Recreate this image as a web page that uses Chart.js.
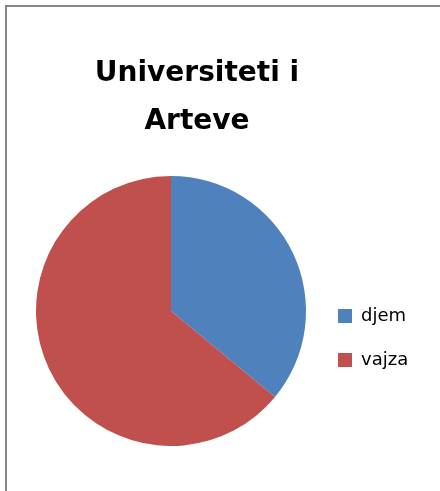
<!DOCTYPE html>
<html>
<head>
<meta charset="utf-8">
<script src="https://cdn.jsdelivr.net/npm/chart.js@4"></script>
<style>
  html, body { margin: 0; padding: 0; background: #fff; overflow: hidden; }
  #frame { position: absolute; left: 5px; top: 5px; width: 600px; height: 700px; border: 2px solid #868686; }
  #myGraph { position: absolute; left: 0; top: 0; }
  #chartTitle {
    position: absolute; left: 0; top: 48px; width: 394px;
    text-align: center; font: bold 28px/48px 'DejaVu Sans'; color: #000;
  }
</style>
</head>
<body>
<div id="frame"></div>
<canvas id="myGraph" width="440" height="491"></canvas>
<div id="chartTitle"></div>
<script>
// data
const titleLines = ['Universiteti i', 'Arteve'];
const categories = ['djem', 'vajza'];
const values = [36, 64];
const sliceColors = ['#4F81BD', '#C0504D'];

// title sits left of the legend centre, so it is plain html text over the canvas
let chartTitle = document.getElementById('chartTitle');
chartTitle.innerHTML = titleLines.join('<br>');

Chart.defaults.color = '#000';

const ctx = document.getElementById('myGraph').getContext('2d');
let pieChart = new Chart(ctx, {
    type: 'pie',
    data: {
        labels: categories,
        datasets: [
            {
                data: values,
                backgroundColor: sliceColors,
                borderWidth: 0,
            }
        ]
    },
    options: {
        responsive: false,
        animation: false,
        layout: {
            padding: { left: 30, right: 22, top: 176, bottom: 45 }
        },
        plugins: {
            title: { display: false },
            legend: {
                position: 'right',
                fullSize: false,
                maxWidth: 106,
                // empty legend title only pushes the items down like in the picture
                title: {
                    display: true,
                    text: ' ',
                    font: { size: 10, lineHeight: 1.4 },
                    padding: 20
                },
                labels: {
                    boxWidth: 14,
                    boxHeight: 14,
                    padding: 26,
                    color: '#000',
                    font: { family: 'DejaVu Sans', size: 18 }
                }
            },
            tooltip: { enabled: false }
        }
    }
});
</script>
</body>
</html>
